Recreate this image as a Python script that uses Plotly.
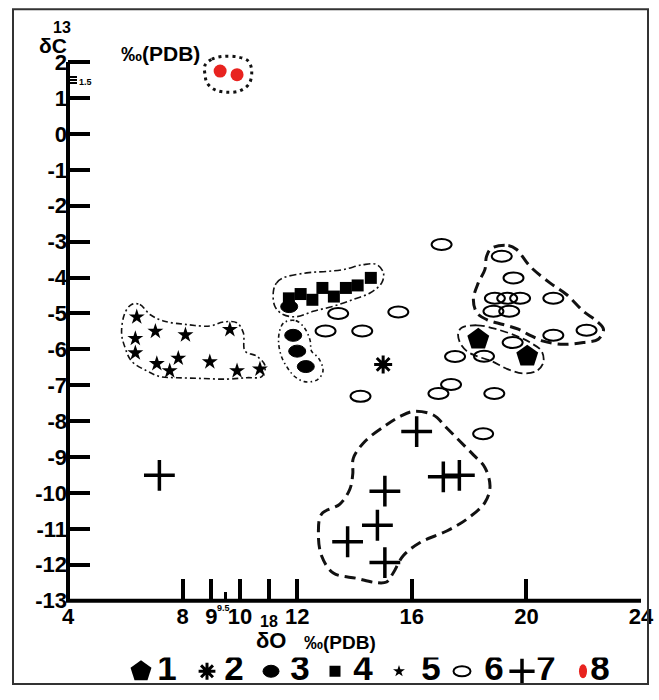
import plotly.graph_objects as go

# ---------------- data ----------------
# group 1 : filled pentagons
g1_x = [18.32, 20.03]
g1_y = [-5.72, -6.19]
# group 2 : burst
g2_x = [15.0]
g2_y = [-6.42]
# group 3 : filled ellipses
g3_x = [11.72, 11.86, 12.00, 12.30]
g3_y = [-4.81, -5.61, -6.05, -6.48]
# group 4 : filled squares
g4_x = [11.71, 12.12, 12.53, 12.88, 13.28, 13.70, 14.11, 14.57]
g4_y = [-4.58, -4.46, -4.62, -4.29, -4.53, -4.29, -4.22, -4.01]
# group 5 : small stars
g5_x = [6.40, 7.05, 8.10, 9.65, 6.35, 6.35, 7.10, 7.55, 7.85, 8.95, 9.90, 10.70]
g5_y = [-5.10, -5.50, -5.60, -5.45, -5.70, -6.10, -6.40, -6.60, -6.25, -6.35, -6.60, -6.55]
# group 6 : open ellipses
g6_x = [13.43, 15.53, 12.99, 14.27, 17.51, 14.21, 16.93, 17.37, 17.04, 19.14, 19.55, 18.90,
        19.33, 19.78, 20.94, 18.85, 19.40, 20.94, 22.10, 19.52, 18.52, 18.88, 18.49]
g6_y = [-5.00, -4.96, -5.49, -5.49, -6.20, -7.31, -7.23, -6.98, -3.08, -3.41, -4.01, -4.58,
        -4.58, -4.58, -4.58, -4.94, -4.94, -5.61, -5.47, -5.81, -6.19, -7.23, -8.35]
# group 7 : plus signs
g7_x = [16.17, 17.10, 17.66, 15.06, 14.80, 13.76, 15.06, 7.19]
g7_y = [-8.29, -9.55, -9.51, -9.95, -10.90, -11.36, -11.94, -9.51]
# group 8 : red dots
g8_x = [9.31, 9.90]
g8_y = [1.75, 1.65]

# hand-drawn enclosures (data units)
out5_x = [6.22, 6.51, 6.86, 7.33, 8.14, 8.96, 9.42, 9.89, 10.12, 10.18, 10.59, 10.88, 10.76,
          10.24, 9.54, 8.61, 7.79, 7.21, 6.75, 6.22, 5.99, 5.87, 5.99]
out5_y = [-4.75, -4.75, -5.03, -5.21, -5.31, -5.35, -5.24, -5.26, -5.54, -6.05, -6.19, -6.46, -6.76,
          -6.79, -6.83, -6.81, -6.79, -6.76, -6.60, -6.33, -5.95, -5.54, -4.98]
out4_x = [11.17, 11.28, 11.51, 12.33, 13.03, 13.61, 14.31, 14.78, 15.01, 14.95, 14.54, 13.96,
          13.26, 12.56, 11.98, 11.51, 11.22]
out4_y = [-4.38, -4.15, -4.01, -3.87, -3.83, -3.78, -3.64, -3.64, -3.87, -4.15, -4.43, -4.61,
          -4.80, -4.94, -5.09, -5.03, -4.80]
out3_x = [11.55, 11.95, 12.25, 12.45, 12.50, 12.75, 12.90, 12.70, 12.25, 11.90, 11.65, 11.45, 11.35, 11.40]
out3_y = [-5.25, -5.20, -5.40, -5.75, -6.05, -6.25, -6.60, -6.85, -6.90, -6.75, -6.50, -6.20, -5.80, -5.45]
out1_x = [17.74, 18.27, 18.96, 19.66, 20.13, 20.53, 20.59, 20.36, 19.89, 19.31, 18.79, 18.27,
          17.92, 17.68, 17.62]
out1_y = [-5.40, -5.33, -5.44, -5.63, -5.81, -6.05, -6.37, -6.60, -6.67, -6.54, -6.33, -6.19,
          -6.05, -5.81, -5.54]
out6_x = [18.79, 19.37, 19.66, 20.13, 20.82, 21.41, 21.99, 22.45, 22.69, 22.51, 21.99, 21.29,
          20.59, 20.13, 19.72, 19.19, 18.61, 18.27, 18.15, 18.32, 18.55, 18.61]
out6_y = [-3.18, -3.11, -3.22, -3.69, -4.15, -4.48, -4.94, -5.21, -5.44, -5.72, -5.81, -5.86,
          -5.77, -5.61, -5.44, -5.31, -5.17, -4.98, -4.61, -4.15, -3.78, -3.41]
out7_x = [16.05, 16.75, 17.22, 17.68, 18.15, 18.55, 18.73, 18.55, 17.92, 17.22, 16.29, 15.70,
          15.35, 15.12, 14.77, 14.08, 13.26, 12.85, 12.74, 12.85, 13.49, 13.84, 13.94, 13.96,
          14.37, 15.12, 15.59]
out7_y = [-7.73, -7.83, -8.19, -8.56, -8.94, -9.29, -9.82, -10.27, -10.73, -11.06, -11.38, -11.75,
          -12.23, -12.48, -12.50, -12.38, -12.23, -11.75, -11.10, -10.59, -10.31, -9.89, -9.47,
          -9.03, -8.56, -8.10, -7.87]
out8_x = [8.78, 9.02, 9.42, 9.94, 10.29, 10.41, 10.33, 10.00, 9.54, 9.13, 8.86, 8.78]
out8_y = [1.91, 2.08, 2.16, 2.14, 2.03, 1.78, 1.41, 1.20, 1.16, 1.23, 1.41, 1.66]

# axes ticks
x_tickvals = [4, 8, 9, 10, 11, 12, 16, 20, 24]
x_ticktext = ["4", "8", "9", "10", "", "12", "16", "20", "24"]
x_minor = [9.5]
y_tickvals = list(range(-13, 3))
y_ticktext = [str(v) for v in y_tickvals]
y_minor = [1.42, 1.5, 1.58]

legend_labels = ["1", "2", "3", "4", "5", "6", "7", "8"]

# ---------------- layout constants ----------------
W, H = 659, 700
ML, MR, MT, MB = 68, 18, 17, 2
PW, PH = W - ML - MR, H - MT - MB
Y_DOM_BOTTOM = (H - MB - 612) / PH
Y_TOP = max(y_tickvals) + (63 - MT) * (max(y_tickvals) - min(y_tickvals)) / (612 - 63)

BOLD = "Liberation Sans, Arial"
NARROW = "Liberation Sans Narrow, Liberation Sans, Arial"

def px(xp):
    return (xp - ML) / PW

def py(yp):
    return (H - MB - yp) / PH

def b(t):
    return "<b>%s</b>" % t if t else ""

fig = go.Figure()

def closed(xs, ys):
    return list(xs) + [xs[0]], list(ys) + [ys[0]]

outlines = [
    (out5_x, out5_y, "6px,3px,2px,3px", 1.6),
    (out4_x, out4_y, "7px,3px,2px,3px", 1.6),
    (out3_x, out3_y, "4px,3px,1.5px,3px", 1.6),
    (out1_x, out1_y, "8px,4px", 1.8),
    (out6_x, out6_y, "11px,6px", 3),
    (out7_x, out7_y, "11px,6px", 3),
    (out8_x, out8_y, "3px,4px", 3),
]
for xs, ys, dash, w in outlines:
    cx, cy = closed(xs, ys)
    fig.add_trace(go.Scatter(x=cx, y=cy, mode="lines",
                             line=dict(color="#111", width=w, dash=dash, shape="spline", smoothing=1.0),
                             hoverinfo="skip", showlegend=False))

# markers
fig.add_trace(go.Scatter(x=g4_x, y=g4_y, mode="markers", name="4",
                         marker=dict(symbol="square", size=12, color="black"), showlegend=False))
fig.add_trace(go.Scatter(x=g5_x, y=g5_y, mode="markers", name="5",
                         marker=dict(symbol="star", size=12, color="black"), showlegend=False))
fig.add_trace(go.Scatter(x=g1_x, y=g1_y, mode="markers", name="1",
                         marker=dict(symbol="pentagon", size=23, color="black"), showlegend=False))
fig.add_trace(go.Scatter(x=g2_x, y=g2_y, mode="markers", name="2",
                         marker=dict(symbol="asterisk-open", size=15, color="black",
                                     line=dict(width=3, color="black")), showlegend=False))
fig.add_trace(go.Scatter(x=g2_x, y=g2_y, mode="markers", hoverinfo="skip",
                         marker=dict(symbol="circle", size=8, color="black"), showlegend=False))
fig.add_trace(go.Scatter(x=g7_x, y=g7_y, mode="markers", name="7",
                         marker=dict(symbol="cross-thin", size=22, color="black",
                                     line=dict(width=3.5, color="black")), showlegend=False))
fig.add_trace(go.Scatter(x=g8_x, y=g8_y, mode="markers", name="8", cliponaxis=False,
                         marker=dict(symbol="circle", size=13, color="#e8231f"), showlegend=False))
# invisible carriers for the ellipse groups
fig.add_trace(go.Scatter(x=g3_x, y=g3_y, mode="markers", name="3",
                         marker=dict(size=14, opacity=0), showlegend=False))
fig.add_trace(go.Scatter(x=g6_x, y=g6_y, mode="markers", name="6",
                         marker=dict(size=14, opacity=0), showlegend=False))

shapes = []
for x, y in zip(g6_x, g6_y):
    shapes.append(dict(type="circle", xref="x", yref="y", xsizemode="pixel", ysizemode="pixel",
                       xanchor=x, yanchor=y, x0=-10, x1=10, y0=-5.5, y1=5.5,
                       line=dict(color="black", width=2), fillcolor="rgba(0,0,0,0)", layer="above"))
for x, y in zip(g3_x, g3_y):
    shapes.append(dict(type="circle", xref="x", yref="y", xsizemode="pixel", ysizemode="pixel",
                       xanchor=x, yanchor=y, x0=-8.5, x1=8.5, y0=-6, y1=6,
                       line=dict(color="black", width=1), fillcolor="black", layer="above"))

# axis lines
shapes.append(dict(type="line", xref="paper", yref="y", x0=0, x1=0,
                   y0=min(y_tickvals), y1=max(y_tickvals), line=dict(color="black", width=4)))
shapes.append(dict(type="line", xref="paper", yref="paper", x0=-2 / PW, x1=1,
                   y0=Y_DOM_BOTTOM, y1=Y_DOM_BOTTOM, line=dict(color="black", width=4)))
# outer frame
shapes.append(dict(type="rect", xref="paper", yref="paper", x0=px(13), x1=px(648),
                   y0=py(697), y1=py(9), line=dict(color="#333", width=2)))

# ---------------- custom legend row ----------------
leg_marker_x = [px(v) for v in [141, 207, 271, 335, 399, 462, 522, 583]]
leg_label_x = [px(v) for v in [167, 234, 300, 363, 431, 494, 546, 600]]
leg_y = 0
fig.add_trace(go.Scatter(x=[leg_marker_x[0]], y=[leg_y], xaxis="x2", yaxis="y2", mode="markers",
                         marker=dict(symbol="pentagon", size=22, color="black"), hoverinfo="skip", showlegend=False))
fig.add_trace(go.Scatter(x=[leg_marker_x[1]], y=[leg_y], xaxis="x2", yaxis="y2", mode="markers",
                         marker=dict(symbol="asterisk-open", size=14, color="black", line=dict(width=3, color="black")),
                         hoverinfo="skip", showlegend=False))
fig.add_trace(go.Scatter(x=[leg_marker_x[1]], y=[leg_y], xaxis="x2", yaxis="y2", mode="markers",
                         marker=dict(symbol="circle", size=7, color="black"), hoverinfo="skip", showlegend=False))
fig.add_trace(go.Scatter(x=[leg_marker_x[3]], y=[leg_y], xaxis="x2", yaxis="y2", mode="markers",
                         marker=dict(symbol="square", size=11, color="black"), hoverinfo="skip", showlegend=False))
fig.add_trace(go.Scatter(x=[leg_marker_x[4]], y=[leg_y], xaxis="x2", yaxis="y2", mode="markers",
                         marker=dict(symbol="star", size=9, color="black"), hoverinfo="skip", showlegend=False))
fig.add_trace(go.Scatter(x=[leg_marker_x[6]], y=[leg_y], xaxis="x2", yaxis="y2", mode="markers",
                         marker=dict(symbol="cross-thin", size=18, color="black", line=dict(width=3.5, color="black")),
                         hoverinfo="skip", showlegend=False))
fig.add_trace(go.Scatter(x=leg_label_x, y=[leg_y] * len(leg_label_x), xaxis="x2", yaxis="y2",
                         mode="text", text=[b(t) for t in legend_labels], textposition="middle center",
                         textfont=dict(family=NARROW, size=35, color="black"),
                         hoverinfo="skip", showlegend=False))
shapes.append(dict(type="circle", xref="x2", yref="y2", xsizemode="pixel", ysizemode="pixel",
                   xanchor=leg_marker_x[2], yanchor=leg_y, x0=-8, x1=8, y0=-6, y1=6,
                   fillcolor="black", line=dict(color="black", width=1)))
shapes.append(dict(type="circle", xref="x2", yref="y2", xsizemode="pixel", ysizemode="pixel",
                   xanchor=leg_marker_x[5], yanchor=leg_y, x0=-8.5, x1=8.5, y0=-5, y1=5,
                   fillcolor="rgba(0,0,0,0)", line=dict(color="black", width=2)))
shapes.append(dict(type="circle", xref="x2", yref="y2", xsizemode="pixel", ysizemode="pixel",
                   xanchor=leg_marker_x[7], yanchor=leg_y, x0=-4, x1=4, y0=-7, y1=7,
                   fillcolor="#e8231f", line=dict(color="#e8231f", width=0)))

# ---------------- annotations ----------------
def ann(text, xp_, yp_, size, family=BOLD):
    return dict(text=b(text), xref="paper", yref="paper", x=px(xp_), y=py(yp_), showarrow=False,
                xanchor="center", yanchor="middle",
                font=dict(family=family, size=size, color="black"))

annotations = [
    ann("13", 62, 28, 16),
    ann("δC", 53, 46, 21),
    ann("‰(PDB)", 160, 54, 21),
    ann("1.5", 85, 83, 9),
    ann("9.5", 223, 619, 9),
    ann("18", 269, 633, 16, NARROW),
    ann("δO", 271, 653, 22, NARROW),
    ann("‰(PDB)", 340, 655, 19, NARROW),
]

fig.update_layout(
    width=W, height=H,
    margin=dict(l=ML, r=MR, t=MT, b=MB, pad=0),
    paper_bgcolor="white", plot_bgcolor="white",
    hovermode=False,
    font=dict(family=BOLD, color="black"),
    xaxis=dict(range=[4, 24], domain=[0, 1], anchor="y", showline=False, showgrid=False, zeroline=False,
               ticks="inside", ticklen=22, tickwidth=4, tickcolor="black",
               tickmode="array", tickvals=x_tickvals, ticktext=[b(t) for t in x_ticktext],
               tickfont=dict(family=NARROW, size=22, color="black"),
               minor=dict(tickmode="array", tickvals=x_minor, ticks="inside", ticklen=9, tickwidth=3,
                          tickcolor="black", showgrid=False)),
    yaxis=dict(range=[min(y_tickvals), Y_TOP], domain=[Y_DOM_BOTTOM, 1], anchor="x",
               showline=False, showgrid=False, zeroline=False,
               ticks="inside", ticklen=22, tickwidth=4, tickcolor="black",
               tickmode="array", tickvals=y_tickvals, ticktext=[b(t) for t in y_ticktext],
               tickfont=dict(family=BOLD, size=22, color="black"),
               minor=dict(tickmode="array", tickvals=y_minor, ticks="inside", ticklen=9, tickwidth=2,
                          tickcolor="black", showgrid=False)),
    xaxis2=dict(range=[0, 1], domain=[0, 1], anchor="y2", visible=False),
    yaxis2=dict(range=[-1, 1], domain=[0, 28 / PH], anchor="x2", visible=False),
    shapes=shapes,
    annotations=annotations,
)

fig.write_html("out.html")
